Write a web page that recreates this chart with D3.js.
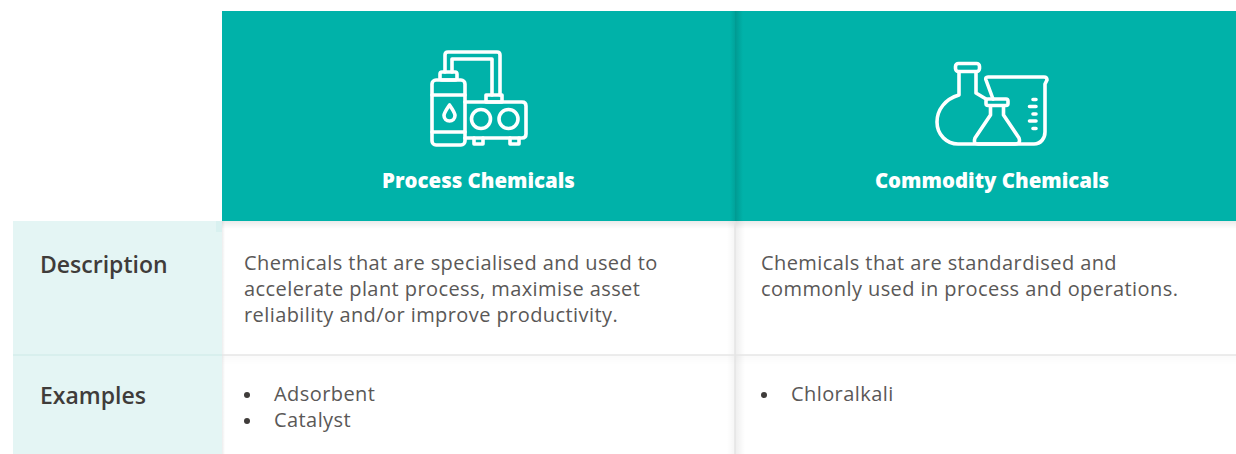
<!DOCTYPE html>
<html>
<head>
<meta charset="utf-8">
<script src="https://cdn.jsdelivr.net/npm/d3@7"></script>
<style>
html, body { margin: 0; padding: 0; background: #fff; overflow: hidden; }
text { font-family: "Open Sans", Lato, sans-serif; }
.head { fill: #fff; font-size: 20.4px; font-weight: 800; text-anchor: middle; }
.rowLabel { fill: #3f3c3a; font-size: 23px; font-weight: 600; }
.cell { fill: #5a5857; font-size: 20px; font-weight: 400; letter-spacing: 0.42px; }
.icon * { fill: none; stroke: #fff; stroke-width: 3.6; stroke-linejoin: round; stroke-linecap: round; }
</style>
</head>
<body>
<div id="chart"></div>
<script>
//table content
var columns = ["Process Chemicals", "Commodity Chemicals"];
var rowLabels = ["Description", "Examples"];
var descriptions = [
    ["Chemicals that are specialised and used to",
     "accelerate plant process, maximise asset",
     "reliability and/or improve productivity."],
    ["Chemicals that are standardised and",
     "commonly used in process and operations."]
];
var examples = [
    ["Adsorbent", "Catalyst"],
    ["Chloralkali"]
];

//svg size
var svgWidth = 1236;
var svgHeight = 454;

var svg = d3.select("#chart")
    .append("svg")
    .attr("width", svgWidth)
    .attr("height", svgHeight)
    .style("display", "block");

//column and row positions
var colLeft = d3.scaleOrdinal().domain(columns).range([222, 735]);
var colRight = d3.scaleOrdinal().domain(columns).range([735, 1249]);
var rowTop = d3.scaleOrdinal().domain(rowLabels).range([221, 355]);
var headTop = 11;
var lineHeight = 26;

var defs = svg.append("defs");

//soft shadows
function shadow(id, x1, y1, x2, y2, stops) {
    var g = defs.append("linearGradient").attr("id", id)
        .attr("x1", x1).attr("y1", y1).attr("x2", x2).attr("y2", y2);
    stops.forEach(function(s) {
        g.append("stop").attr("offset", s[0]).attr("stop-color", s[1]).attr("stop-opacity", s[2]);
    });
}
shadow("shadowRight", 0, 0, 1, 0, [[0, "#000", 0.07], [1, "#000", 0]]);
shadow("shadowLeft", 1, 0, 0, 0, [[0, "#000", 0.04], [1, "#000", 0]]);
shadow("shadowDown", 0, 0, 0, 1, [[0, "#000", 0.08], [1, "#000", 0]]);
shadow("rowDown", 0, 0, 0, 1, [[0, "#000", 0.02], [1, "#000", 0]]);
shadow("headRight", 0, 0, 1, 0, [[0, "#00605a", 0.3], [1, "#00605a", 0]]);
shadow("headLeft", 1, 0, 0, 0, [[0, "#00605a", 0.18], [1, "#00605a", 0]]);

//header band
svg.append("rect")
    .attr("x", colLeft(columns[0])).attr("y", headTop)
    .attr("width", svgWidth - colLeft(columns[0])).attr("height", rowTop(rowLabels[0]) - headTop)
    .attr("fill", "#00b2a9");

//label column
svg.append("rect")
    .attr("x", 13).attr("y", rowTop(rowLabels[0]))
    .attr("width", colLeft(columns[0]) - 13).attr("height", svgHeight - rowTop(rowLabels[0]))
    .attr("fill", "#e4f5f4");
svg.append("rect")
    .attr("x", 216).attr("y", 221).attr("width", 6).attr("height", 11)
    .attr("fill", "#d9f1f0");

//shadows under the header and at the column edges
svg.append("rect").attr("x", 222).attr("y", 221).attr("width", 1014).attr("height", 8).attr("fill", "url(#shadowDown)");
svg.append("rect").attr("x", 222).attr("y", 355).attr("width", 1014).attr("height", 10).attr("fill", "url(#rowDown)");
svg.append("rect").attr("x", 222).attr("y", 221).attr("width", 3).attr("height", 233).attr("fill", "url(#shadowRight)");
svg.append("rect").attr("x", 735).attr("y", 221).attr("width", 10).attr("height", 233).attr("fill", "url(#shadowRight)");
svg.append("rect").attr("x", 727).attr("y", 221).attr("width", 8).attr("height", 233).attr("fill", "url(#shadowLeft)");
svg.append("rect").attr("x", 735).attr("y", 11).attr("width", 8).attr("height", 210).attr("fill", "url(#headRight)");
svg.append("rect").attr("x", 730).attr("y", 11).attr("width", 5).attr("height", 210).attr("fill", "url(#headLeft)");

//grid lines
svg.append("line").attr("x1", 222).attr("x2", 1236).attr("y1", 355).attr("y2", 355)
    .attr("stroke", "#e6e6e6").attr("stroke-width", 1.5);
svg.append("line").attr("x1", 13).attr("x2", 222).attr("y1", 355).attr("y2", 355)
    .attr("stroke", "#d5eceb").attr("stroke-width", 1.5);
svg.append("line").attr("x1", 735).attr("x2", 735).attr("y1", 221).attr("y2", 454)
    .attr("stroke", "#e4e4e4").attr("stroke-width", 1.5);

//header titles
svg.selectAll(".head").data(columns).enter().append("text")
    .attr("class", "head")
    .attr("x", d => (colLeft(d) + colRight(d)) / 2)
    .attr("y", 187.5)
    .text(d => d);

//row labels
svg.selectAll(".rowLabel").data(rowLabels).enter().append("text")
    .attr("class", "rowLabel")
    .attr("x", 40)
    .attr("y", (d, i) => [272.5, 403.5][i])
    .text(d => d);

//description cells
columns.forEach(function(col, c) {
    svg.selectAll(null).data(descriptions[c]).enter().append("text")
        .attr("class", "cell")
        .attr("x", colLeft(col) + [22, 26][c])
        .attr("y", (d, i) => 270 + i * lineHeight)
        .text(d => d);

    //example bullets
    svg.selectAll(null).data(examples[c]).enter().append("circle")
        .attr("cx", colLeft(col) + [25, 29][c])
        .attr("cy", (d, i) => 395 + i * lineHeight)
        .attr("r", 3)
        .attr("fill", "#3f3c3a");
    svg.selectAll(null).data(examples[c]).enter().append("text")
        .attr("class", "cell")
        .attr("x", colLeft(col) + [52, 56][c])
        .attr("y", (d, i) => 401 + i * lineHeight)
        .text(d => d);
});

//process plant icon
var plant = svg.append("g").attr("class", "icon");
plant.append("rect").attr("x", 432).attr("y", 80).attr("width", 33).attr("height", 65).attr("rx", 4);
plant.append("rect").attr("x", 440).attr("y", 72).attr("width", 17).attr("height", 8).attr("rx", 2);
plant.append("path").attr("d", "M432 95H465M432 132H465");
plant.append("path").attr("d", "M445 72V55Q445 52 448 52H497Q500 52 500 55V95M452 72V59H492V95");
plant.append("rect").attr("x", 486).attr("y", 95).attr("width", 16).attr("height", 7);
plant.append("path").attr("d", "M465 102H522Q526 102 526 106V134Q526 138 522 138H465");
plant.append("circle").attr("cx", 481).attr("cy", 119).attr("r", 9.5);
plant.append("circle").attr("cx", 508.5).attr("cy", 119).attr("r", 9.5);
plant.append("path").attr("d", "M474 138V144H483V138M510 138V144H519V138");
plant.append("path").attr("d", "M449.5 105C446 110 444 113 444 115.5A5.5 5.5 0 0 0 455 115.5C455 113 453 110 449.5 105Z");

//lab glass icon
var glass = svg.append("g").attr("class", "icon");
glass.append("rect").attr("x", 955.5).attr("y", 63.5).attr("width", 24).attr("height", 8).attr("rx", 3);
glass.append("path").attr("d", "M959 72V95C945 99 937 110 937 122C937 135 947 144 958 144H1034C1041 144 1045 138 1045 132V84L1047 80Q1047 77 1044 77H988Q985 77 986 80L993 99");
glass.append("path").attr("d", "M976 72V93L986 99");
glass.append("rect").attr("x", 986).attr("y", 99).attr("width", 22).attr("height", 6.5).attr("rx", 2);
glass.append("path").attr("d", "M990.5 106V115L975 138Q973 144 978 144H1015Q1021 144 1019 138L1003.5 115V106");
glass.append("path").attr("d", "M1033 99.5H1036M1029.5 106.5H1036M1033 114H1036M1029.5 121H1036M1033 128.5H1036");
</script>
</body>
</html>
